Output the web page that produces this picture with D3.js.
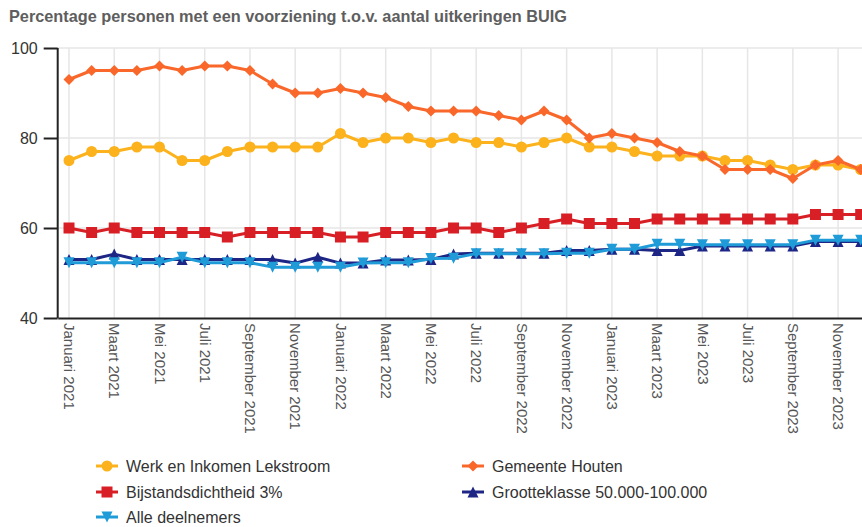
<!DOCTYPE html>
<html><head><meta charset="utf-8">
<script src="https://cdn.jsdelivr.net/npm/d3@7/dist/d3.min.js"></script>
<style>html,body{margin:0;padding:0;background:#fff;overflow:hidden}</style>
</head><body>
<svg id="chart" width="862" height="527" xmlns="http://www.w3.org/2000/svg"></svg>
<script>
const categories = [
  "Januari 2021","Februari 2021","Maart 2021","April 2021","Mei 2021","Juni 2021",
  "Juli 2021","Augustus 2021","September 2021","Oktober 2021","November 2021","December 2021",
  "Januari 2022","Februari 2022","Maart 2022","April 2022","Mei 2022","Juni 2022",
  "Juli 2022","Augustus 2022","September 2022","Oktober 2022","November 2022","December 2022",
  "Januari 2023","Februari 2023","Maart 2023","April 2023","Mei 2023","Juni 2023",
  "Juli 2023","Augustus 2023","September 2023","Oktober 2023","November 2023","December 2023"
];
const xTickLabels = [
  "Januari 2021","Maart 2021","Mei 2021","Juli 2021","September 2021","November 2021",
  "Januari 2022","Maart 2022","Mei 2022","Juli 2022","September 2022","November 2022",
  "Januari 2023","Maart 2023","Mei 2023","Juli 2023","September 2023","November 2023"
];
const yTicks = [40, 60, 80, 100];

const werkEnInkomenLekstroom = [75,77,77,78,78,75,75,77,78,78,78,78, 81,79,80,80,79,80,79,79,78,79,80,78, 78,77,76,76,76,75,75,74,73,74,74,73];
const gemeenteHouten        = [93,95,95,95,96,95,96,96,95,92,90,90, 91,90,89,87,86,86,86,85,84,86,84,80, 81,80,79,77,76,73,73,73,71,74,75,73];
const bijstandsdichtheid3   = [60,59,60,59,59,59,59,58,59,59,59,59, 58,58,59,59,59,60,60,59,60,61,62,61, 61,61,62,62,62,62,62,62,62,63,63,63];
const grootteklasse         = [53,53,54.2,53,53,53,53,53,53,53,52.2,53.5, 52.2,52.2,52.9,52.9,53,54.2,54.4,54.4,54.4,54.4,55,55, 55.3,55.3,55,55,56,56,56,56,56,57,57,57];
const alleDeelnemers        = [52.3,52.3,52.3,52.3,52.3,53.5,52.3,52.3,52.3,51.3,51.3,51.3, 51.3,52.2,52.3,52.3,53.2,53.3,54.3,54.3,54.3,54.3,54.4,54.4, 55.3,55.3,56.4,56.4,56.3,56.3,56.3,56.3,56.3,57.3,57.3,57.3];

const seriesNames = ["Werk en Inkomen Lekstroom","Gemeente Houten","Bijstandsdichtheid 3%","Grootteklasse 50.000-100.000","Alle deelnemers"];
const seriesValues = [werkEnInkomenLekstroom, gemeenteHouten, bijstandsdichtheid3, grootteklasse, alleDeelnemers];
const seriesColors = ["#fbb21c","#f9682a","#d81f26","#1d2685","#1f9bd8"];
const seriesSymbols = ["circle","diamond","square","triangle","triangle-down"];

const svg = d3.select("#chart");
const font = "'Liberation Sans', Arial, Helvetica, sans-serif";
const plotLeft = 57.7, plotTop = 48, plotBottom = 318, plotRight = 872;

const x = d3.scalePoint().domain(categories).range([plotLeft, plotRight]).padding(0.5);
const y = d3.scaleLinear().domain([40, 100]).range([plotBottom, plotTop]);

function symbolPath(type, cx, cy, r) {
  switch (type) {
    case "circle": return `M${cx - r},${cy}a${r},${r} 0 1,0 ${2*r},0a${r},${r} 0 1,0 ${-2*r},0Z`;
    case "square": return `M${cx - r},${cy - r}h${2*r}v${2*r}h${-2*r}Z`;
    case "diamond": return `M${cx},${cy - r}L${cx + r},${cy}L${cx},${cy + r}L${cx - r},${cy}Z`;
    case "triangle": return `M${cx},${cy - r}L${cx + r},${cy + r}L${cx - r},${cy + r}Z`;
    case "triangle-down": return `M${cx - r},${cy - r}L${cx + r},${cy - r}L${cx},${cy + r}Z`;
  }
}

// title
svg.append("text").attr("x", 9).attr("y", 22)
  .attr("font-family", font).attr("font-size", 16.3).attr("font-weight", "bold")
  .attr("fill", "#5e5e5e")
  .text("Percentage personen met een voorziening t.o.v. aantal uitkeringen BUIG");

// horizontal grid
svg.append("g").selectAll("line").data(yTicks.filter(d => d > 40)).join("line")
  .attr("x1", plotLeft).attr("x2", 862).attr("y1", d => y(d)).attr("y2", d => y(d))
  .attr("stroke", "#e6e6e6").attr("stroke-width", 1.5);

// vertical grid at labeled ticks
svg.append("g").selectAll("line").data(xTickLabels).join("line")
  .attr("x1", d => x(d)).attr("x2", d => x(d)).attr("y1", plotTop).attr("y2", plotBottom)
  .attr("stroke", "#e6e6e6").attr("stroke-width", 1.5);

// y axis
const yAxis = d3.axisLeft(y).tickValues(yTicks).tickSize(14).tickPadding(6);
const yg = svg.append("g").attr("transform", `translate(${plotLeft},0)`).call(yAxis);
yg.select(".domain").attr("stroke", "#222").attr("stroke-width", 2).attr("d", `M0,${plotTop}V${plotBottom}`);
yg.selectAll(".tick line").attr("stroke", "#222").attr("stroke-width", 2);
yg.selectAll(".tick text").attr("font-family", font).attr("font-size", 16).attr("fill", "#333");

// x axis
const xAxis = d3.axisBottom(x).tickValues(xTickLabels).tickSize(0).tickPadding(0);
const xg = svg.append("g").attr("transform", `translate(0,${plotBottom})`).call(xAxis);
xg.select(".domain").attr("stroke", "#222").attr("stroke-width", 2);
xg.selectAll(".tick text")
  .attr("font-family", font).attr("font-size", 15).attr("fill", "#555")
  .attr("text-anchor", "start").attr("dy", "0.35em").attr("y", 0)
  .attr("transform", "translate(0,5) rotate(90)");

// series
const line = d3.line().x((d, i) => x(categories[i])).y(d => y(d));
seriesValues.forEach((vals, s) => {
  const g = svg.append("g");
  g.append("path").datum(vals).attr("d", line)
    .attr("fill", "none").attr("stroke", seriesColors[s]).attr("stroke-width", 3)
    .attr("stroke-linejoin", "round");
  g.selectAll("path.m").data(vals).join("path").attr("class", "m")
    .attr("d", (d, i) => symbolPath(seriesSymbols[s], x(categories[i]), y(d), 5.5))
    .attr("fill", seriesColors[s]);
});

// legend
const legendPos = [[107, 466], [473, 466], [107, 492], [473, 492], [107, 517]];
seriesNames.forEach((name, s) => {
  const [lx, ly] = legendPos[s];
  const g = svg.append("g");
  g.append("line").attr("x1", lx - 11).attr("x2", lx + 11).attr("y1", ly).attr("y2", ly)
    .attr("stroke", seriesColors[s]).attr("stroke-width", 3);
  g.append("path").attr("d", symbolPath(seriesSymbols[s], lx, ly, 5.5)).attr("fill", seriesColors[s]);
  g.append("text").attr("x", lx + 19).attr("y", ly).attr("dy", "0.35em")
    .attr("font-family", font).attr("font-size", 16).attr("fill", "#333").text(name);
});
</script>
</body></html>
